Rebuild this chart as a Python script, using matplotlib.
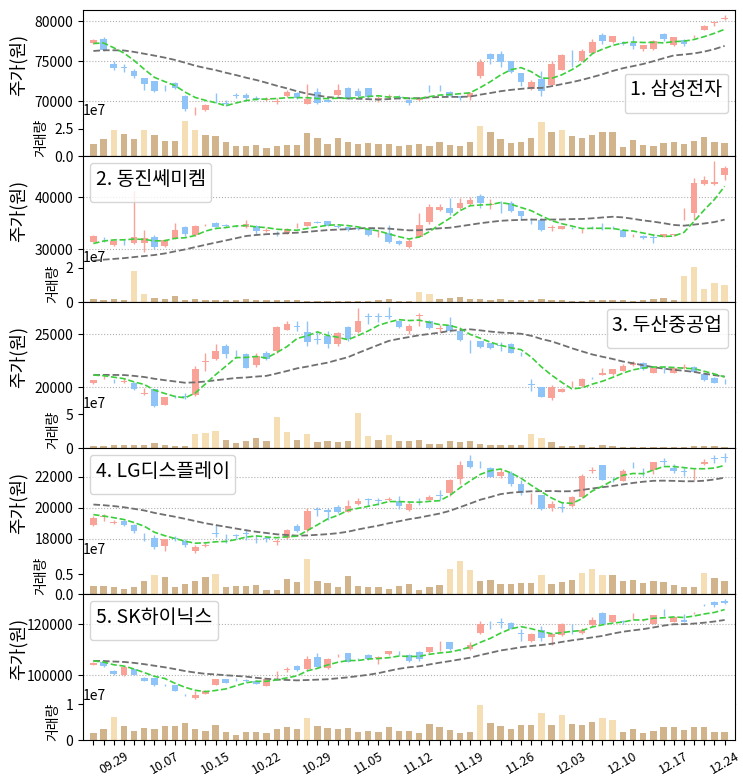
import numpy as np
import pandas as pd
import matplotlib
matplotlib.use("Agg")
import matplotlib.pyplot as plt
from matplotlib.ticker import MultipleLocator, ScalarFormatter

plt.rcParams['font.family'] = ['Noto Sans CJK KR', 'DejaVu Sans']
plt.rcParams['axes.unicode_minus'] = False

# trading days 2021-09-27 ~ 2021-12-24 (KRX holidays removed)
days = pd.bdate_range('2021-09-27', '2021-12-24')
days = days[~days.isin(pd.to_datetime(['2021-10-04', '2021-10-11']))]
day_labels = [d.strftime('%m.%d') for d in days]

names = ['1. 삼성전자', '2. 동진쎄미켐', '3. 두산중공업', '4. LG디스플레이', '5. SK하이닉스']

# ---- 1. Samsung ----
samsung_open = [77300, 77800, 74700, 74300, 73800, 72860, 72500, 71600, 72300, 70600,
                68700, 68900, 70100, 69800, 70800, 70760, 70400, 70200, 69900, 70700,
                71000, 69650, 71200, 70200, 70760, 71700, 71300, 71600, 70300, 70500,
                70500, 70100, 70200, 71700, 71700, 71100, 70600, 70460, 73200, 75900,
                75900, 75100, 73500, 71500, 72800, 72000, 73950, 75600, 75100, 76100,
                78300, 77400, 77300, 77300, 76500, 76500, 78450, 77000, 77700, 78000,
                78950, 79850, 80300]
samsung_high = [77800, 78000, 75100, 74700, 74000, 72900, 72500, 72000, 72400, 70800,
                69300, 69600, 71000, 70200, 71000, 71000, 70600, 70500, 70400, 71400,
                71100, 72150, 71600, 70300, 72150, 71800, 71600, 71700, 70600, 70900,
                70800, 70300, 70500, 72000, 72000, 71300, 70700, 71100, 75300, 76000,
                76300, 75100, 73500, 72700, 73800, 75100, 75900, 76400, 76600, 77800,
                78600, 78200, 77500, 78200, 77100, 77700, 78500, 78100, 77800, 78300,
                79500, 80050, 80800]
samsung_low = [77200, 76300, 73900, 73600, 72900, 71400, 71200, 71300, 71500, 68700,
               68300, 68800, 69800, 69400, 70400, 70200, 70100, 70000, 69600, 70500,
               70300, 69600, 69700, 69900, 70600, 70300, 70500, 70400, 69900, 70300,
               70300, 69500, 70000, 71200, 71300, 70600, 70200, 70200, 72900, 74700,
               74300, 73500, 71900, 71400, 70600, 71900, 73900, 74250, 75000, 76000,
               77200, 77300, 77000, 76600, 76300, 76400, 77500, 76900, 76900, 77900,
               78900, 79400, 80200]
samsung_close = [77700, 76400, 74200, 74100, 73100, 72200, 71300, 71600, 71600, 69000,
                 68800, 69500, 70100, 69700, 70700, 70340, 70300, 70300, 70000, 71200,
                 70400, 70250, 69800, 69950, 71430, 70340, 70700, 70500, 70400, 70600,
                 70400, 69800, 70400, 71600, 71600, 70700, 70340, 71000, 74900, 75300,
                 74900, 73600, 72350, 72350, 71300, 74700, 75800, 75600, 76300, 77400,
                 77500, 78150, 77200, 76900, 77050, 77600, 77800, 78000, 77200, 78100,
                 79400, 79900, 80500]
# 19 closes before 09.27, for the moving averages
samsung_prior = [74600, 74300, 74600, 76700, 76800, 76000, 76600, 77300, 76100, 76300,
                 75300, 75300, 76300, 76600, 77000, 76100, 77200, 77400, 77800]
# volume in 10,000 shares
samsung_volume = [1140, 1570, 2410, 2020, 1570, 2410, 1900, 1390, 1390, 3160,
                  2410, 1930, 1810, 1300, 960, 960, 1050, 780, 960, 1050,
                  1050, 2110, 1660, 1140, 1630, 1300, 1140, 1230, 1140, 1140,
                  960, 1000, 1140, 960, 1270, 1050, 960, 1270, 2770, 2170,
                  1570, 1200, 1300, 1660, 3070, 2170, 2350, 1810, 1660, 1930,
                  2170, 2170, 840, 1450, 1050, 960, 1200, 1300, 1140, 1390,
                  1720, 1300, 1200]
samsung_surge = [2, 5, 9, 10, 38, 44, 46]

# ---- 2. Dongjin Semichem ----
dj_open = [31440, 31900, 30900, 31400, 31240, 31240, 32420, 30590, 32090, 34250,
           32740, 34600, 35000, 34600, 34500, 34250, 34500, 33500, 33000, 33070,
           34370, 34500, 35200, 35360, 34400, 34180, 34000, 33850, 32900, 33070,
           31570, 30500, 32420, 35160, 37500, 37970, 37970, 38630, 40130, 38500,
           38900, 38820, 37320, 35800, 35690, 34100, 33850, 34100, 33400, 34100,
           34200, 34300, 33600, 32500, 32550, 32300, 32420, 32800, 35900, 36860,
           42550, 42600, 44310]
dj_high = [32700, 32300, 31700, 31900, 41240, 33700, 32750, 31900, 35000, 34510,
           34700, 34900, 35200, 34800, 34700, 35700, 34700, 34000, 33500, 34000,
           35000, 35300, 35500, 35500, 34600, 34300, 34200, 34000, 33600, 34700,
           31700, 31900, 36860, 38630, 38600, 39750, 39900, 39930, 40590, 39700,
           39200, 39300, 37400, 36000, 36000, 34700, 34500, 34300, 33850, 34400,
           35030, 34500, 33850, 32900, 32700, 32940, 33000, 33000, 37970, 43660,
           44100, 46900, 45900]
dj_low = [31300, 31300, 30700, 30800, 31000, 29480, 30130, 30400, 31900, 32600,
          32600, 34400, 34200, 34300, 34200, 34100, 33000, 33300, 32600, 32900,
          34000, 34400, 35000, 34400, 34100, 33500, 33700, 32600, 32300, 31240,
          30900, 30200, 32300, 34900, 37400, 36500, 37700, 38500, 37970, 37800,
          36900, 37200, 35800, 34900, 33400, 33400, 33800, 33900, 33200, 33800,
          33600, 33900, 32250, 32290, 32000, 31200, 32300, 32600, 35550, 35690,
          42300, 42300, 43300]
dj_close = [32550, 31900, 31570, 31300, 32400, 32220, 30460, 31770, 33600, 32940,
            34380, 34700, 34250, 34500, 34400, 34840, 33400, 33600, 32940, 33850,
            34380, 35160, 35100, 34500, 34300, 33600, 33900, 32740, 33000, 31440,
            30980, 31600, 34700, 38100, 38170, 37000, 38950, 39480, 38820, 38630,
            38900, 37320, 36340, 35800, 33720, 34250, 34380, 34050, 33410, 34000,
            34200, 34300, 32420, 32520, 32090, 32220, 32940, 32850, 36010, 42750,
            43200, 42900, 45500]
dj_prior = [28000, 28600, 28400, 28200, 28300, 26500, 26000, 25600, 25400, 25500,
            25800, 25900, 26100, 26000, 26200, 29500, 30500, 31200, 31700]
dj_volume = [190, 100, 160, 100, 1790, 450, 270, 160, 330, 100,
             160, 100, 100, 100, 100, 210, 100, 100, 100, 100,
             100, 90, 90, 90, 90, 90, 90, 80, 130, 210,
             80, 60, 620, 450, 160, 250, 310, 160, 210, 100,
             160, 100, 100, 100, 160, 100, 100, 60, 60, 100,
             100, 100, 100, 60, 100, 160, 270, 100, 1510, 2020,
             740, 1130, 970]
dj_surge = [4, 5, 32, 33, 58, 59, 60, 61, 62]

# ---- 3. Doosan Heavy ----
doosan_open = [20350, 20850, 20600, 20500, 20410, 19400, 19780, 18340, 19200, 19150,
               19300, 22400, 22640, 23920, 23200, 23120, 22100, 23280, 23380, 25450,
               25800, 25250, 24550, 24870, 24080, 25730, 25190, 26750, 26750, 26700,
               26240, 25350, 26770, 26240, 25550, 25920, 25280, 24000, 24330, 24140,
               23950, 24080, 23150, 20300, 20000, 18980, 19550, 20000, 20100, 20900,
               21150, 21270, 21530, 22100, 22320, 21370, 21750, 21370, 21850, 21910,
               21270, 20890, 20440]
doosan_high = [20700, 21150, 20750, 20900, 20450, 19930, 19780, 19100, 19300, 19450,
               22000, 23270, 24070, 24070, 23520, 23220, 23280, 23440, 25830, 26240,
               26240, 26300, 25190, 25350, 25190, 25830, 27520, 26980, 27010, 27580,
               26300, 25990, 26980, 26400, 25920, 26690, 25300, 24460, 24400, 24200,
               24240, 24150, 23300, 20730, 20000, 20190, 19900, 20580, 20900, 21000,
               21850, 21750, 22150, 22480, 22400, 21900, 22000, 21850, 22200, 22000,
               21300, 20950, 20730]
doosan_low = [20300, 20800, 20350, 20400, 19700, 19250, 18150, 18300, 19000, 18900,
              19200, 21530, 22550, 22800, 22750, 21790, 21920, 22550, 23280, 25400,
              25300, 23920, 24080, 23700, 23920, 24400, 25100, 25980, 26150, 26450,
              25600, 25000, 25800, 25500, 25190, 25190, 24400, 23190, 23700, 23650,
              23450, 23200, 22950, 19680, 19050, 18800, 19500, 20000, 20050, 20750,
              21150, 21200, 21500, 22050, 21600, 21300, 21370, 21300, 21700, 21400,
              20600, 20350, 20330]
doosan_close = [20670, 20900, 20570, 20570, 19780, 19460, 18190, 19040, 19140, 19100,
                21750, 22480, 23440, 23120, 23200, 21850, 22960, 22640, 25730, 25990,
                25730, 24240, 24490, 24080, 25100, 24550, 26240, 26690, 26690, 26620,
                25730, 25830, 26880, 25600, 25600, 25350, 24460, 24000, 23760, 23700,
                23920, 23280, 23120, 20250, 19050, 20000, 19870, 20020, 20730, 20830,
                21370, 21690, 22000, 22320, 21690, 21850, 21690, 21780, 21950, 21470,
                20640, 20410, 20410]
doosan_prior = [20600, 20700, 20750, 21400, 21600, 21500, 21700, 21550, 21550, 21000,
                20900, 21100, 20950, 21000, 20950, 21200, 21300, 21250, 21330]
doosan_volume = [250, 250, 400, 400, 500, 400, 750, 400, 250, 250,
                 2100, 2200, 2500, 1250, 800, 1100, 1500, 1100, 4600, 2400,
                 1250, 2100, 900, 1100, 900, 1100, 5100, 1800, 1250, 1950,
                 1100, 1000, 1250, 600, 600, 1100, 900, 1100, 600, 450,
                 500, 400, 500, 2100, 1500, 900, 350, 350, 500, 200,
                 500, 250, 200, 150, 150, 200, 200, 200, 200, 350,
                 350, 250, 200]
doosan_surge = [10, 11, 12, 18, 19, 21, 26, 27, 29, 43, 44]

# ---- 4. LG Display ----
lg_open = [18870, 19400, 19000, 19120, 18870, 18200, 18040, 17550, 18050, 17870,
           17240, 17550, 18400, 18100, 18250, 18350, 18000, 18050, 17800, 18040,
           18800, 18540, 19900, 19850, 20050, 19710, 20270, 20550, 20480, 20500,
           20420, 19880, 20450, 20530, 20850, 20960, 21830, 23020, 22850, 22580,
           22040, 22220, 21500, 20500, 20850, 19990, 20050, 20100, 20700, 22380,
           22740, 21880, 21720, 22650, 22400, 22430, 23000, 22580, 22350, 22000,
           22800, 23200, 23260]
lg_high = [19450, 19600, 19200, 19200, 18950, 18400, 18270, 17980, 18150, 17980,
           17600, 17750, 18920, 18300, 18300, 18600, 18250, 18200, 18000, 18640,
           18980, 19990, 20050, 20000, 20200, 20530, 20640, 20640, 20600, 20700,
           20750, 20400, 20640, 20850, 21150, 21840, 23020, 23390, 23020, 22600,
           22480, 22370, 21780, 20960, 20850, 20420, 20360, 20790, 22150, 22610,
           22750, 22000, 22480, 22950, 22590, 22950, 23230, 22800, 22590, 22520,
           23170, 23390, 23520]
lg_low = [18800, 19120, 18950, 18850, 18400, 17850, 17320, 17200, 17850, 17500,
          17100, 17500, 18100, 17750, 18000, 17900, 17700, 17800, 17600, 17980,
          18420, 18420, 19500, 19230, 19660, 19700, 20200, 20100, 20150, 20450,
          19920, 19800, 20200, 20500, 20530, 20790, 21560, 22590, 22590, 22000,
          21950, 21430, 20800, 20270, 19880, 19780, 19700, 20050, 20640, 22260,
          21770, 21660, 21700, 22590, 22050, 22150, 22780, 22260, 22050, 21780,
          22780, 22910, 22950]
lg_close = [19340, 19450, 19060, 18900, 18480, 18150, 17500, 17980, 17980, 17610,
            17500, 17610, 18320, 18100, 18200, 18320, 17980, 17980, 17850, 18540,
            18480, 19770, 19840, 19750, 19710, 20100, 20420, 20490, 20420, 20570,
            20100, 20270, 20420, 20700, 20790, 21780, 22740, 22650, 22800, 22000,
            22300, 21500, 20920, 20530, 19920, 20270, 19990, 20700, 22040, 22430,
            21780, 21830, 22370, 22640, 22370, 22950, 22950, 22370, 22300, 22010,
            22950, 23170, 23230]
lg_prior = [20300, 20200, 20400, 20500, 20300, 20600, 20500, 20400, 20300, 20400,
            20500, 20600, 20300, 20500, 20550, 19900, 19600, 19500, 19450]
lg_volume = [210, 210, 170, 140, 190, 330, 480, 440, 190, 260,
             330, 440, 510, 190, 210, 210, 240, 110, 110, 380,
             310, 870, 340, 270, 190, 460, 210, 190, 170, 140,
             210, 250, 110, 190, 220, 640, 830, 600, 340, 360,
             250, 250, 270, 270, 490, 250, 310, 350, 530, 640,
             490, 470, 340, 360, 270, 320, 300, 220, 170, 190,
             520, 400, 320]
lg_surge = [6, 12, 21, 35, 36, 37, 44, 48, 49, 50, 60]

# ---- 5. SK hynix ----
sk_open = [104000, 105330, 101600, 100000, 102270, 98930, 98670, 96200, 96000, 92150,
           90930, 92530, 96270, 98270, 98400, 98000, 97870, 95870, 99500, 102100,
           103600, 102270, 106930, 102670, 107400, 108530, 106400, 108000, 106800, 108270,
           108600, 108000, 108930, 108930, 111800, 112930, 110000, 110270, 116530, 120200,
           120700, 120530, 116400, 113330, 117870, 114930, 115600, 119100, 116530, 119600,
           124530, 120930, 121200, 122000, 121500, 120270, 124600, 120930, 121870, 124400,
           127700, 128930, 129330]
sk_high = [105100, 106000, 101900, 103400, 102500, 99200, 98700, 96500, 96200, 92400,
           93600, 94270, 98400, 98500, 98700, 98300, 98000, 98400, 101600, 103000,
           103800, 107600, 108500, 106900, 108300, 108800, 106900, 108400, 107600, 109500,
           109500, 108270, 109330, 111200, 113300, 113000, 110300, 113000, 121300, 121330,
           122400, 120800, 118270, 116400, 119200, 115500, 120500, 120000, 118600, 122670,
           124800, 123800, 121800, 124300, 122000, 123800, 125900, 122800, 123900, 124800,
           128000, 129100, 129870]
sk_low = [103800, 103200, 100200, 99800, 99900, 97600, 95600, 95600, 93600, 91700,
          90700, 92400, 96000, 96800, 97700, 97300, 96400, 95600, 98500, 101400,
          101800, 102000, 103000, 102400, 107000, 105000, 105800, 106000, 104270, 108000,
          108000, 105300, 105600, 108800, 109300, 110000, 109500, 110000, 116300, 118000,
          118400, 118000, 113330, 113000, 113330, 112000, 115400, 116000, 116000, 119400,
          120100, 120800, 120000, 121900, 121200, 120000, 123300, 120800, 120800, 124000,
          127000, 126800, 128000]
sk_close = [104930, 103600, 100270, 103200, 100000, 97870, 96270, 96000, 93870, 92000,
            92000, 93600, 98270, 96930, 98270, 97870, 96530, 98270, 99600, 102270,
            101870, 106270, 103200, 106270, 107600, 105330, 106270, 106270, 107000, 109330,
            108530, 105600, 106270, 111200, 112000, 110270, 109870, 112000, 120270, 120000,
            120530, 118270, 116270, 116270, 114670, 116000, 120270, 118930, 117870, 121600,
            120270, 123600, 121000, 122010, 121600, 123600, 124530, 122670, 120930, 124530,
            127600, 127600, 128270]
sk_prior = [104500, 105000, 106000, 107500, 108000, 108500, 108000, 108000, 107580, 104000,
            103500, 103000, 103500, 103420, 103500, 106000, 105500, 105800, 105770]
sk_volume = [190, 300, 660, 410, 260, 330, 300, 390, 410, 490,
             300, 250, 430, 220, 140, 220, 220, 190, 300, 360,
             300, 630, 410, 330, 300, 330, 220, 250, 220, 360,
             250, 260, 190, 450, 380, 290, 190, 240, 970, 480,
             410, 320, 420, 420, 750, 420, 710, 450, 420, 510,
             620, 570, 240, 320, 210, 260, 380, 380, 290, 380,
             380, 240, 240]
sk_surge = [2, 21, 38, 44, 46, 50, 51]

stocks = [
    (samsung_open, samsung_high, samsung_low, samsung_close, samsung_prior, samsung_volume, samsung_surge),
    (dj_open, dj_high, dj_low, dj_close, dj_prior, dj_volume, dj_surge),
    (doosan_open, doosan_high, doosan_low, doosan_close, doosan_prior, doosan_volume, doosan_surge),
    (lg_open, lg_high, lg_low, lg_close, lg_prior, lg_volume, lg_surge),
    (sk_open, sk_high, sk_low, sk_close, sk_prior, sk_volume, sk_surge),
]
legend_locs = ['lower right', 'upper left', 'upper right', 'upper left', 'upper left']
price_steps = [5000, 10000, 5000, 2000, 20000]
vol_steps = [2.5e7, 2e7, 5e7, 0.5e7, 1e7]

UP = '#f9a298'
DOWN = '#8ec4f7'

fig = plt.figure(figsize=(7.43, 7.80), dpi=100)
gs = fig.add_gridspec(10, 1, height_ratios=[3, 1] * 5, hspace=0,
                      left=0.112, right=0.989, top=0.987, bottom=0.051)

x = np.arange(len(days))
first = None
for k, (o, h, l, c, prior, vol, surge) in enumerate(stocks):
    o = np.array(o); h = np.array(h); l = np.array(l); c = np.array(c)
    ax = fig.add_subplot(gs[2 * k], sharex=first)
    if first is None:
        first = ax
    axv = fig.add_subplot(gs[2 * k + 1], sharex=first)

    cols = np.where(c > o, UP, DOWN)
    ax.vlines(x, l, h, colors=cols, lw=1.0, zorder=2)
    ax.bar(x, np.abs(c - o), bottom=np.minimum(o, c), width=0.65, color=cols, zorder=2)

    full = pd.Series(list(prior) + list(c), dtype=float)
    ma5 = full.rolling(5).mean().values[len(prior):]
    ma20 = full.rolling(20).mean().values[len(prior):]
    ax.plot(x, ma20, color='#707070', ls='--', lw=1.3, zorder=3)
    ax.plot(x, ma5, color='#3ccf3c', ls='--', lw=1.2, zorder=4)

    ax.yaxis.set_major_locator(MultipleLocator(price_steps[k]))
    ax.grid(axis='y', color='#b0b0b0', ls=':', lw=0.8)
    ax.set_axisbelow(True)
    ax.set_ylabel('주가(원)', fontsize=13)
    ax.yaxis.set_label_coords(-0.085, 0.5)
    ax.spines['bottom'].set_visible(False)
    ax.tick_params(axis='x', bottom=False, labelbottom=False)
    ax.legend(handles=[], labels=[], title=names[k], loc=legend_locs[k],
              title_fontsize=14)

    vol = np.array(vol) * 1e4
    vcols = ['#f5deb3' if i in surge else '#d2b48c' for i in range(len(vol))]
    axv.bar(x, vol, width=0.62, color=vcols)
    axv.yaxis.set_major_locator(MultipleLocator(vol_steps[k]))
    fmt = ScalarFormatter()
    fmt.set_powerlimits((7, 7))
    axv.yaxis.set_major_formatter(fmt)
    axv.set_ylabel('거래량', fontsize=10)
    axv.spines['top'].set_visible(False)
    if k < 4:
        axv.tick_params(axis='x', bottom=False, labelbottom=False)
    else:
        axv.set_xticks(x)
        axv.set_xticklabels([lab if (len(x) - 1 - i) % 5 == 0 else ''
                             for i, lab in enumerate(day_labels)],
                            rotation=30, fontsize=9)

first.set_xlim(-1, len(days))
fig.savefig('out.png', dpi=100)
